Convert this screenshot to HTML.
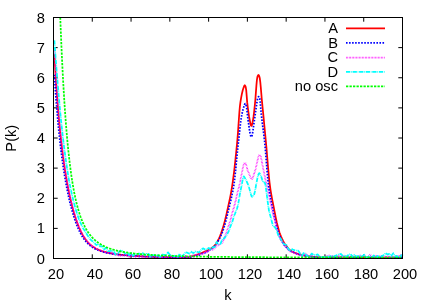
<!DOCTYPE html><html><head><meta charset="utf-8"><title>P(k)</title><style>
html,body{margin:0;padding:0;background:#fff;}
body{width:436px;height:305px;position:relative;overflow:hidden;font-family:"Liberation Sans",sans-serif;font-size:14.67px;color:#000;}
.t{position:absolute;white-space:nowrap;line-height:1;will-change:transform;}
.r{text-align:right;}
.c{text-align:center;}
</style></head><body>
<svg width="436" height="305" viewBox="0 0 436 305" style="position:absolute;left:0;top:0">
<rect width="436" height="305" fill="#fff"/>
<path d="M53.50,258.5 v-4.2 M53.50,17.5 v4.2 M92.28,258.5 v-4.2 M92.28,17.5 v4.2 M131.06,258.5 v-4.2 M131.06,17.5 v4.2 M169.83,258.5 v-4.2 M169.83,17.5 v4.2 M208.61,258.5 v-4.2 M208.61,17.5 v4.2 M247.39,258.5 v-4.2 M247.39,17.5 v4.2 M286.17,258.5 v-4.2 M286.17,17.5 v4.2 M324.94,258.5 v-4.2 M324.94,17.5 v4.2 M363.72,258.5 v-4.2 M363.72,17.5 v4.2 M402.50,258.5 v-4.2 M402.50,17.5 v4.2 M53.5,258.50 h4.2 M402.5,258.50 h-4.2 M53.5,228.38 h4.2 M402.5,228.38 h-4.2 M53.5,198.25 h4.2 M402.5,198.25 h-4.2 M53.5,168.12 h4.2 M402.5,168.12 h-4.2 M53.5,138.00 h4.2 M402.5,138.00 h-4.2 M53.5,107.88 h4.2 M402.5,107.88 h-4.2 M53.5,77.75 h4.2 M402.5,77.75 h-4.2 M53.5,47.62 h4.2 M402.5,47.62 h-4.2 M53.5,17.50 h4.2 M402.5,17.50 h-4.2" fill="none" stroke="#000" stroke-width="1"/>
<path d="M54.37,54.08 L54.96,64.48 L55.44,72.58 L55.93,80.21 L56.41,87.42 L56.90,94.22 L57.38,100.67 L57.87,106.78 L58.35,112.59 L58.84,118.11 L59.33,123.36 L59.81,128.37 L60.30,133.16 L60.78,137.73 L61.27,142.10 L61.75,146.29 L62.24,150.30 L62.72,154.15 L63.21,157.84 L63.69,161.39 L64.18,164.80 L64.66,168.09 L65.15,171.25 L65.64,174.30 L66.12,177.23 L66.61,180.07 L67.09,182.80 L67.58,185.43 L68.06,187.98 L68.55,190.44 L69.03,192.81 L69.52,195.11 L70.00,197.33 L70.49,199.48 L70.97,201.55 L71.46,203.56 L71.95,205.50 L72.43,207.38 L72.92,209.20 L73.40,210.96 L73.89,212.66 L74.37,214.31 L74.86,215.91 L75.34,217.45 L75.83,218.94 L76.31,220.38 L76.80,221.78 L77.29,223.12 L77.77,224.42 L78.26,225.67 L78.74,226.87 L79.23,228.02 L79.71,229.13 L80.20,230.20 L80.68,231.22 L81.17,232.21 L81.65,233.15 L82.14,234.06 L82.62,234.93 L83.11,235.76 L83.60,236.56 L84.08,237.32 L84.57,238.05 L85.05,238.75 L85.54,239.42 L86.02,240.07 L86.51,240.68 L86.99,241.27 L87.48,241.83 L87.96,242.37 L88.45,242.89 L88.94,243.38 L89.42,243.85 L89.91,244.30 L90.39,244.74 L90.88,245.15 L91.36,245.54 L91.85,245.92 L92.33,246.28 L92.82,246.63 L93.30,246.96 L93.79,247.28 L94.28,247.58 L94.76,247.87 L95.25,248.15 L95.73,248.42 L96.22,248.68 L96.70,248.92 L97.19,249.16 L97.67,249.39 L98.16,249.61 L98.64,249.82 L99.13,250.02 L99.61,250.22 L100.10,250.41 L100.59,250.59 L101.07,250.76 L101.56,250.93 L102.04,251.10 L102.53,251.25 L103.01,251.41 L103.50,251.55 L103.98,251.70 L104.47,251.83 L104.95,251.97 L105.44,252.10 L105.92,252.22 L106.41,252.34 L106.90,252.46 L107.38,252.57 L107.87,252.68 L108.35,252.79 L108.84,252.90 L109.32,253.00 L109.81,253.09 L110.29,253.19 L110.78,253.28 L111.26,253.37 L111.75,253.46 L112.24,253.55 L112.72,253.63 L113.21,253.71 L113.69,253.79 L114.18,253.86 L114.66,253.94 L115.15,254.01 L115.63,254.08 L116.12,254.15 L116.60,254.22 L117.09,254.28 L117.57,254.35 L118.06,254.41 L118.55,254.47 L119.03,254.53 L119.52,254.59 L120.00,254.65 L120.49,254.70 L120.97,254.76 L121.46,254.81 L121.94,254.86 L122.43,254.92 L122.91,254.97 L123.40,255.01 L123.89,255.06 L124.37,255.11 L124.86,255.15 L125.34,255.20 L125.83,255.24 L126.31,255.29 L126.80,255.33 L127.28,255.37 L127.77,255.41 L128.25,255.45 L128.74,255.49 L129.23,255.53 L129.71,255.57 L130.20,255.60 L130.68,255.64 L131.17,255.68 L131.65,255.71 L132.14,255.75 L132.62,255.78 L133.11,255.81 L133.59,255.85 L134.08,255.88 L134.56,255.91 L135.05,255.94 L135.54,255.97 L136.02,256.00 L136.51,256.03 L136.99,256.06 L137.48,256.09 L137.96,256.12 L138.45,256.14 L138.93,256.17 L139.42,256.20 L139.90,256.22 L140.39,256.25 L140.88,256.27 L141.36,256.30 L141.85,256.32 L142.33,256.34 L142.82,256.37 L143.30,256.39 L143.79,256.41 L144.27,256.43 L144.76,256.46 L145.24,256.48 L145.73,256.50 L146.21,256.52 L146.70,256.54 L147.19,256.56 L147.67,256.58 L148.16,256.60 L148.64,256.62 L149.13,256.64 L149.61,256.65 L150.10,256.67 L150.58,256.69 L151.07,256.71 L151.55,256.72 L152.04,256.74 L152.52,256.76 L153.01,256.77 L153.50,256.79 L153.98,256.80 L154.47,256.82 L154.95,256.84 L155.44,256.85 L155.92,256.86 L156.41,256.88 L156.89,256.89 L157.38,256.91 L157.86,256.92 L158.35,256.93 L158.84,256.95 L159.32,256.96 L159.81,256.97 L160.29,256.99 L160.78,257.00 L161.26,257.01 L161.75,257.02 L162.23,257.03 L162.72,257.05 L163.20,257.06 L163.69,257.07 L164.18,257.08 L164.66,257.09 L165.15,257.10 L165.63,257.11 L166.12,257.12 L166.60,257.13 L167.09,257.14 L167.57,257.15 L168.06,257.16 L168.54,257.17 L169.03,257.18 L169.51,257.19 L170.00,257.20 L170.49,257.21 L170.97,257.22 L171.46,257.22 L171.94,257.23 L172.43,257.24 L172.91,257.25 L173.40,257.26 L173.88,257.27 L174.37,257.27 L174.85,257.28 L175.34,257.29 L175.82,257.30 L176.31,257.30 L176.80,257.31 L177.28,257.32 L177.77,257.33 L178.25,257.33 L178.74,257.34 L179.22,257.35 L179.71,257.35 L180.19,257.36 L180.68,257.36 L181.16,257.37 L181.65,257.38 L182.14,257.38 L182.62,257.39 L183.11,257.39 L183.59,257.40 L184.08,257.41 L184.56,257.41 L185.05,257.42 L185.53,257.42 L186.02,257.38 L186.50,257.32 L186.99,257.26 L187.48,257.19 L187.96,257.12 L188.45,257.04 L188.93,256.95 L189.42,256.86 L189.90,256.76 L190.39,256.65 L190.87,256.54 L191.36,256.42 L191.84,256.30 L192.33,256.17 L192.81,256.04 L193.30,255.90 L193.79,255.76 L194.27,255.61 L194.76,255.46 L195.24,255.31 L195.73,255.15 L196.21,254.99 L196.70,254.82 L197.18,254.65 L197.67,254.48 L198.15,254.30 L198.64,254.12 L199.12,253.94 L199.61,253.75 L200.10,253.56 L200.58,253.37 L201.07,253.18 L201.55,252.98 L202.04,252.79 L202.52,252.59 L203.01,252.39 L203.49,252.18 L203.98,251.98 L204.46,251.78 L204.95,251.57 L205.44,251.36 L205.92,251.15 L206.41,250.93 L206.89,250.71 L207.38,250.48 L207.86,250.24 L208.35,249.99 L208.83,249.73 L209.32,249.47 L209.80,249.18 L210.29,248.89 L210.78,248.58 L211.26,248.25 L211.75,247.91 L212.23,247.56 L212.72,247.18 L213.20,246.79 L213.69,246.37 L214.17,245.94 L214.66,245.46 L215.14,244.90 L215.63,244.27 L216.11,243.57 L216.60,242.81 L217.09,241.99 L217.57,241.13 L218.06,240.23 L218.54,239.30 L219.03,238.33 L219.51,237.27 L220.00,236.13 L220.48,234.91 L220.97,233.62 L221.45,232.26 L221.94,230.84 L222.43,229.36 L222.91,227.84 L223.40,226.27 L223.88,224.61 L224.37,222.84 L224.85,220.97 L225.34,219.00 L225.82,216.96 L226.31,214.86 L226.79,212.72 L227.28,210.53 L227.76,208.33 L228.25,206.13 L228.74,203.93 L229.22,201.71 L229.71,199.43 L230.19,197.07 L230.68,194.59 L231.16,191.98 L231.65,189.19 L232.13,186.20 L232.62,182.96 L233.10,179.47 L233.59,175.72 L234.08,171.75 L234.56,167.56 L235.05,163.18 L235.53,158.62 L236.02,153.91 L236.50,149.04 L236.99,144.06 L237.47,138.85 L237.96,132.61 L238.44,125.63 L238.93,118.53 L239.41,111.90 L239.90,106.34 L240.39,102.40 L240.87,99.32 L241.36,96.56 L241.84,94.10 L242.33,91.95 L242.81,90.07 L243.30,88.48 L243.78,87.13 L244.27,85.88 L244.75,85.28 L245.24,85.80 L245.73,87.08 L246.21,90.16 L246.70,96.19 L247.18,102.15 L247.67,106.32 L248.15,110.15 L248.64,113.63 L249.12,116.71 L249.61,119.32 L250.09,121.80 L250.58,124.12 L251.06,125.66 L251.55,125.82 L252.04,124.56 L252.52,122.38 L253.01,119.83 L253.49,116.93 L253.98,113.10 L254.46,108.66 L254.95,103.98 L255.43,98.72 L255.92,92.19 L256.40,85.57 L256.89,80.09 L257.38,77.00 L257.86,75.64 L258.35,74.91 L258.83,75.25 L259.32,76.42 L259.80,78.30 L260.29,82.06 L260.77,87.20 L261.26,92.99 L261.74,98.73 L262.23,103.81 L262.71,108.73 L263.20,113.69 L263.69,118.68 L264.17,123.71 L264.66,128.77 L265.14,133.85 L265.63,138.96 L266.11,144.17 L266.60,149.70 L267.08,155.45 L267.57,161.26 L268.05,167.00 L268.54,172.51 L269.02,177.64 L269.51,182.25 L270.00,186.20 L270.48,189.58 L270.97,192.65 L271.45,195.46 L271.94,198.08 L272.42,200.57 L272.91,203.00 L273.39,205.41 L273.88,207.89 L274.36,210.43 L274.85,212.97 L275.34,215.48 L275.82,217.91 L276.31,220.23 L276.79,222.40 L277.28,224.39 L277.76,226.27 L278.25,228.07 L278.73,229.79 L279.22,231.41 L279.70,232.93 L280.19,234.33 L280.68,235.60 L281.16,236.78 L281.65,237.91 L282.13,238.98 L282.62,240.00 L283.10,240.96 L283.59,241.87 L284.07,242.72 L284.56,243.51 L285.04,244.23 L285.53,244.91 L286.01,245.56 L286.50,246.19 L286.99,246.81 L287.47,247.41 L287.96,247.98 L288.44,248.53 L288.93,249.05 L289.41,249.53 L289.90,249.99 L290.38,250.41 L290.87,250.79 L291.35,251.12 L291.84,251.42 L292.33,251.67 L292.81,251.90 L293.30,252.12 L293.78,252.34 L294.27,252.55 L294.75,252.74 L295.24,252.93 L295.72,253.12 L296.21,253.29 L296.69,253.46 L297.18,253.62 L297.66,253.77 L298.15,253.92 L298.64,254.06 L299.12,254.20 L299.61,254.33 L300.09,254.45 L300.58,254.57 L301.06,254.69 L301.55,254.80 L302.03,254.91 L302.52,255.01 L303.00,255.11 L303.49,255.21 L303.98,255.31 L304.46,255.40 L304.95,255.49 L305.43,255.58 L305.92,255.66 L306.40,255.75 L306.89,255.84 L307.37,255.92 L307.86,256.01 L308.34,256.09 L308.83,256.18 L309.31,256.26 L309.80,256.34 L310.29,256.42 L310.77,256.50 L311.26,256.57 L311.74,256.65 L312.23,256.72 L312.71,256.79 L313.20,256.86 L313.68,256.92 L314.17,256.99 L314.65,257.05 L315.14,257.11 L315.62,257.16 L316.11,257.21 L316.60,257.26 L317.08,257.31 L317.57,257.36 L318.05,257.40 L318.54,257.43 L319.02,257.47 L319.51,257.50 L319.99,257.52 L320.48,257.55 L320.96,257.57 L321.45,257.58 L321.94,257.58 L322.42,257.58 L322.91,257.58 L323.39,257.58 L323.88,257.58 L324.36,257.58 L324.85,257.58 L325.33,257.58 L325.82,257.58 L326.30,257.58 L326.79,257.58 L327.27,257.58 L327.76,257.58 L328.25,257.57 L328.73,257.57 L329.22,257.57 L329.70,257.57 L330.19,257.57 L330.67,257.57 L331.16,257.57 L331.64,257.57 L332.13,257.57 L332.61,257.57 L333.10,257.57 L333.59,257.57 L334.07,257.57 L334.56,257.57 L335.04,257.57 L335.53,257.57 L336.01,257.57 L336.50,257.57 L336.98,257.57 L337.47,257.57 L337.95,257.57 L338.44,257.57 L338.93,257.57 L339.41,257.57 L339.90,257.57 L340.38,257.57 L340.87,257.57 L341.35,257.57 L341.84,257.57 L342.32,257.57 L342.81,257.57 L343.29,257.57 L343.78,257.57 L344.26,257.57 L344.75,257.57 L345.24,257.56 L345.72,257.56 L346.21,257.56 L346.69,257.56 L347.18,257.56 L347.66,257.56 L348.15,257.56 L348.63,257.56 L349.12,257.56 L349.60,257.56 L350.09,257.56 L350.57,257.56 L351.06,257.56 L351.55,257.56 L352.03,257.56 L352.52,257.56 L353.00,257.56 L353.49,257.56 L353.97,257.56 L354.46,257.56 L354.94,257.56 L355.43,257.56 L355.91,257.56 L356.40,257.56 L356.89,257.56 L357.37,257.56 L357.86,257.56 L358.34,257.56 L358.83,257.56 L359.31,257.56 L359.80,257.56 L360.28,257.56 L360.77,257.56 L361.25,257.56 L361.74,257.56 L362.22,257.56 L362.71,257.56 L363.20,257.56 L363.68,257.56 L364.17,257.56 L364.65,257.56 L365.14,257.56 L365.62,257.56 L366.11,257.56 L366.59,257.56 L367.08,257.56 L367.56,257.56 L368.05,257.56 L368.54,257.56 L369.02,257.56 L369.51,257.56 L369.99,257.57 L370.48,257.57 L370.96,257.57 L371.45,257.57 L371.93,257.57 L372.42,257.57 L372.90,257.57 L373.39,257.57 L373.88,257.57 L374.36,257.57 L374.85,257.57 L375.33,257.57 L375.82,257.57 L376.30,257.57 L376.79,257.57 L377.27,257.57 L377.76,257.57 L378.24,257.57 L378.73,257.57 L379.21,257.57 L379.70,257.57 L380.19,257.57 L380.67,257.57 L381.16,257.57 L381.64,257.57 L382.13,257.57 L382.61,257.57 L383.10,257.57 L383.58,257.57 L384.07,257.57 L384.55,257.57 L385.04,257.57 L385.52,257.58 L386.01,257.58 L386.50,257.58 L386.98,257.58 L387.47,257.58 L387.95,257.58 L388.44,257.58 L388.92,257.58 L389.41,257.58 L389.89,257.58 L390.38,257.58 L390.86,257.58 L391.35,257.58 L391.84,257.58 L392.32,257.58 L392.81,257.58 L393.29,257.58 L393.78,257.58 L394.26,257.58 L394.75,257.58 L395.23,257.59 L395.72,257.59 L396.20,257.59 L396.69,257.59 L397.17,257.59 L397.66,257.59 L398.15,257.59 L398.63,257.59 L399.12,257.59 L399.60,257.59 L400.09,257.59 L400.57,257.59 L401.06,257.59 L401.54,257.59 L402.03,257.59 L402.51,257.60 L403.00,257.60" fill="none" stroke="#ff0000" stroke-width="1.75" stroke-linejoin="round"/>
<path d="M54.37,74.78 L54.96,83.82 L55.44,90.90 L55.93,97.54 L56.41,103.83 L56.90,109.80 L57.38,115.46 L57.87,120.89 L58.35,126.07 L58.84,131.00 L59.33,135.71 L59.81,140.19 L60.30,144.46 L60.78,148.56 L61.27,152.48 L61.75,156.25 L62.24,159.86 L62.72,163.33 L63.21,166.66 L63.69,169.90 L64.18,173.01 L64.66,176.00 L65.15,178.89 L65.64,181.67 L66.12,184.34 L66.61,186.92 L67.09,189.42 L67.58,191.83 L68.06,194.16 L68.55,196.40 L69.03,198.58 L69.52,200.67 L70.00,202.70 L70.49,204.65 L70.97,206.55 L71.46,208.38 L71.95,210.15 L72.43,211.86 L72.92,213.52 L73.40,215.15 L73.89,216.73 L74.37,218.25 L74.86,219.73 L75.34,221.15 L75.83,222.53 L76.31,223.85 L76.80,225.13 L77.29,226.34 L77.77,227.51 L78.26,228.63 L78.74,229.71 L79.23,230.76 L79.71,231.77 L80.20,232.74 L80.68,233.68 L81.17,234.56 L81.65,235.41 L82.14,236.22 L82.62,237.00 L83.11,237.73 L83.60,238.44 L84.08,239.11 L84.57,239.75 L85.05,240.40 L85.54,241.03 L86.02,241.63 L86.51,242.20 L86.99,242.72 L87.48,243.22 L87.96,243.69 L88.45,244.14 L88.94,244.60 L89.42,245.04 L89.91,245.46 L90.39,245.86 L90.88,246.22 L91.36,246.56 L91.85,246.89 L92.33,247.20 L92.82,247.51 L93.30,247.80 L93.79,248.07 L94.28,248.34 L94.76,248.63 L95.25,248.90 L95.73,249.17 L96.22,249.43 L96.70,249.64 L97.19,249.85 L97.67,250.04 L98.16,250.22 L98.64,250.41 L99.13,250.60 L99.61,250.77 L100.10,250.94 L100.59,251.12 L101.07,251.29 L101.56,251.46 L102.04,251.62 L102.53,251.78 L103.01,251.93 L103.50,252.09 L103.98,252.23 L104.47,252.37 L104.95,252.50 L105.44,252.63 L105.92,252.76 L106.41,252.83 L106.90,252.90 L107.38,252.97 L107.87,253.03 L108.35,253.13 L108.84,253.23 L109.32,253.33 L109.81,253.42 L110.29,253.43 L110.78,253.42 L111.26,253.41 L111.75,253.40 L112.24,253.65 L112.72,253.90 L113.21,254.15 L113.69,254.40 L114.18,254.38 L114.66,254.35 L115.15,254.32 L115.63,254.29 L116.12,254.34 L116.60,254.39 L117.09,254.44 L117.57,254.49 L118.06,254.51 L118.55,254.52 L119.03,254.53 L119.52,254.54 L120.00,254.63 L120.49,254.72 L120.97,254.81 L121.46,254.90 L121.94,255.01 L122.43,255.11 L122.91,255.22 L123.40,255.33 L123.89,255.34 L124.37,255.34 L124.86,255.35 L125.34,255.35 L125.83,255.37 L126.31,255.38 L126.80,255.40 L127.28,255.41 L127.77,255.49 L128.25,255.57 L128.74,255.64 L129.23,255.72 L129.71,255.71 L130.20,255.69 L130.68,255.68 L131.17,255.66 L131.65,255.81 L132.14,255.97 L132.62,256.12 L133.11,256.27 L133.59,256.14 L134.08,256.00 L134.56,255.87 L135.05,255.74 L135.54,255.78 L136.02,255.82 L136.51,255.86 L136.99,255.90 L137.48,256.01 L137.96,256.11 L138.45,256.22 L138.93,256.33 L139.42,256.31 L139.90,256.29 L140.39,256.27 L140.88,256.25 L141.36,256.30 L141.85,256.35 L142.33,256.40 L142.82,256.45 L143.30,256.51 L143.79,256.57 L144.27,256.63 L144.76,256.69 L145.24,256.67 L145.73,256.65 L146.21,256.62 L146.70,256.60 L147.19,256.58 L147.67,256.56 L148.16,256.53 L148.64,256.51 L149.13,256.59 L149.61,256.67 L150.10,256.75 L150.58,256.83 L151.07,256.84 L151.55,256.86 L152.04,256.88 L152.52,256.89 L153.01,256.89 L153.50,256.89 L153.98,256.90 L154.47,256.90 L154.95,256.89 L155.44,256.88 L155.92,256.87 L156.41,256.86 L156.89,256.84 L157.38,256.81 L157.86,256.79 L158.35,256.76 L158.84,256.86 L159.32,256.96 L159.81,257.06 L160.29,257.16 L160.78,257.12 L161.26,257.08 L161.75,257.03 L162.23,256.99 L162.72,257.02 L163.20,257.04 L163.69,257.07 L164.18,257.09 L164.66,257.19 L165.15,257.30 L165.63,257.40 L166.12,257.51 L166.60,257.45 L167.09,257.39 L167.57,257.34 L168.06,257.28 L168.54,257.28 L169.03,257.27 L169.51,257.27 L170.00,257.27 L170.49,257.27 L170.97,257.27 L171.46,257.28 L171.94,257.28 L172.43,257.27 L172.91,257.26 L173.40,257.26 L173.88,257.25 L174.37,257.36 L174.85,257.48 L175.34,257.59 L175.82,257.70 L176.31,257.62 L176.80,257.53 L177.28,257.44 L177.77,257.35 L178.25,257.39 L178.74,257.43 L179.22,257.47 L179.71,257.51 L180.19,257.55 L180.68,257.59 L181.16,257.63 L181.65,257.67 L182.14,257.59 L182.62,257.51 L183.11,257.42 L183.59,257.34 L184.08,257.33 L184.56,257.33 L185.05,257.33 L185.53,257.32 L186.02,257.38 L186.50,257.44 L186.99,257.48 L187.48,257.51 L187.96,257.41 L188.45,257.30 L188.93,257.17 L189.42,257.05 L189.90,257.03 L190.39,257.01 L190.87,256.98 L191.36,256.95 L191.84,256.83 L192.33,256.70 L192.81,256.57 L193.30,256.44 L193.79,256.37 L194.27,256.29 L194.76,256.21 L195.24,256.13 L195.73,255.86 L196.21,255.60 L196.70,255.32 L197.18,255.05 L197.67,255.08 L198.15,255.11 L198.64,255.13 L199.12,255.15 L199.61,254.87 L200.10,254.57 L200.58,254.28 L201.07,253.98 L201.55,253.77 L202.04,253.55 L202.52,253.33 L203.01,253.10 L203.49,253.04 L203.98,252.97 L204.46,252.91 L204.95,252.84 L205.44,252.56 L205.92,252.27 L206.41,251.97 L206.89,251.66 L207.38,251.41 L207.86,251.15 L208.35,250.87 L208.83,250.58 L209.32,250.25 L209.80,249.90 L210.29,249.53 L210.78,249.15 L211.26,248.78 L211.75,248.40 L212.23,248.00 L212.72,247.59 L213.20,247.25 L213.69,246.90 L214.17,246.54 L214.66,246.14 L215.14,245.66 L215.63,245.13 L216.11,244.55 L216.60,243.92 L217.09,243.07 L217.57,242.19 L218.06,241.27 L218.54,240.31 L219.03,239.46 L219.51,238.56 L220.00,237.59 L220.48,236.54 L220.97,235.50 L221.45,234.40 L221.94,233.24 L222.43,232.02 L222.91,230.63 L223.40,229.20 L223.88,227.73 L224.37,226.20 L224.85,224.60 L225.34,222.89 L225.82,221.09 L226.31,219.20 L226.79,217.24 L227.28,215.22 L227.76,213.17 L228.25,211.10 L228.74,209.04 L229.22,207.00 L229.71,205.00 L230.19,203.03 L230.68,200.97 L231.16,198.87 L231.65,196.68 L232.13,194.38 L232.62,192.11 L233.10,189.65 L233.59,186.97 L234.08,183.91 L234.56,180.01 L235.05,175.64 L235.53,170.92 L236.02,165.94 L236.50,160.98 L236.99,155.97 L237.47,151.04 L237.96,146.29 L238.44,141.83 L238.93,137.53 L239.41,133.11 L239.90,128.72 L240.39,124.46 L240.87,120.60 L241.36,117.32 L241.84,114.59 L242.33,112.30 L242.81,110.25 L243.30,108.47 L243.78,107.00 L244.27,105.51 L244.75,104.17 L245.24,103.63 L245.73,104.21 L246.21,105.59 L246.70,108.24 L247.18,112.42 L247.67,116.90 L248.15,120.55 L248.64,123.90 L249.12,127.38 L249.61,130.71 L250.09,133.50 L250.58,135.64 L251.06,136.86 L251.55,136.90 L252.04,135.67 L252.52,133.34 L253.01,130.28 L253.49,126.81 L253.98,123.12 L254.46,119.72 L254.95,116.38 L255.43,112.81 L255.92,109.40 L256.40,106.15 L256.89,102.67 L257.38,99.69 L257.86,98.01 L258.35,96.89 L258.83,96.61 L259.32,97.38 L259.80,98.81 L260.29,102.46 L260.77,108.41 L261.26,114.03 L261.74,118.32 L262.23,122.28 L262.71,126.04 L263.20,129.76 L263.69,133.56 L264.17,137.59 L264.66,142.01 L265.14,147.06 L265.63,152.69 L266.11,158.64 L266.60,164.71 L267.08,170.65 L267.57,176.27 L268.05,181.33 L268.54,185.61 L269.02,189.12 L269.51,192.27 L270.00,195.14 L270.48,197.80 L270.97,200.30 L271.45,202.71 L271.94,205.08 L272.42,207.47 L272.91,209.89 L273.39,212.32 L273.88,214.69 L274.36,217.00 L274.85,219.23 L275.34,221.35 L275.82,223.36 L276.31,225.24 L276.79,227.08 L277.28,228.85 L277.76,230.56 L278.25,232.16 L278.73,233.66 L279.22,234.87 L279.70,235.94 L280.19,236.94 L280.68,237.89 L281.16,239.13 L281.65,240.32 L282.13,241.44 L282.62,242.51 L283.10,243.31 L283.59,244.05 L284.07,244.72 L284.56,245.33 L285.04,245.89 L285.53,246.42 L286.01,246.94 L286.50,247.43 L286.99,248.00 L287.47,248.54 L287.96,249.06 L288.44,249.55 L288.93,249.95 L289.41,250.31 L289.90,250.64 L290.38,250.94 L290.87,251.22 L291.35,251.46 L291.84,251.68 L292.33,251.89 L292.81,252.09 L293.30,252.29 L293.78,252.47 L294.27,252.65 L294.75,252.87 L295.24,253.08 L295.72,253.28 L296.21,253.48 L296.69,253.72 L297.18,253.96 L297.66,254.19 L298.15,254.42 L298.64,254.47 L299.12,254.51 L299.61,254.55 L300.09,254.58 L300.58,254.83 L301.06,255.08 L301.55,255.32 L302.03,255.56 L302.52,255.58 L303.00,255.61 L303.49,255.63 L303.98,255.64 L304.46,255.74 L304.95,255.84 L305.43,255.94 L305.92,256.04 L306.40,256.14 L306.89,256.25 L307.37,256.35 L307.86,256.46 L308.34,256.46 L308.83,256.46 L309.31,256.46 L309.80,256.46 L310.29,256.57 L310.77,256.67 L311.26,256.78 L311.74,256.88 L312.23,256.89 L312.71,256.90 L313.20,256.90 L313.68,256.91 L314.17,257.08 L314.65,257.24 L315.14,257.41 L315.62,257.57 L316.11,257.51 L316.60,257.45 L317.08,257.38 L317.57,257.31 L318.05,257.35 L318.54,257.40 L319.02,257.44 L319.51,257.47 L319.99,257.50 L320.48,257.53 L320.96,257.56 L321.45,257.58 L321.94,257.64 L322.42,257.71 L322.91,257.78 L323.39,257.85 L323.88,257.80 L324.36,257.75 L324.85,257.69 L325.33,257.64 L325.82,257.70 L326.30,257.76 L326.79,257.81 L327.27,257.87 L327.76,257.90 L328.25,257.92 L328.73,257.94 L329.22,257.97 L329.70,257.73 L330.19,257.48 L330.67,257.24 L331.16,257.00 L331.64,257.10 L332.13,257.21 L332.61,257.31 L333.10,257.41 L333.59,257.38 L334.07,257.34 L334.56,257.30 L335.04,257.26 L335.53,257.36 L336.01,257.46 L336.50,257.56 L336.98,257.66 L337.47,257.61 L337.95,257.56 L338.44,257.51 L338.93,257.46 L339.41,257.46 L339.90,257.46 L340.38,257.46 L340.87,257.46 L341.35,257.46 L341.84,257.47 L342.32,257.47 L342.81,257.48 L343.29,257.50 L343.78,257.53 L344.26,257.56 L344.75,257.58 L345.24,257.59 L345.72,257.60 L346.21,257.61 L346.69,257.62 L347.18,257.71 L347.66,257.79 L348.15,257.87 L348.63,257.96 L349.12,257.84 L349.60,257.71 L350.09,257.59 L350.57,257.47 L351.06,257.48 L351.55,257.49 L352.03,257.50 L352.52,257.51 L353.00,257.47 L353.49,257.44 L353.97,257.41 L354.46,257.38 L354.94,257.44 L355.43,257.51 L355.91,257.57 L356.40,257.63 L356.89,257.54 L357.37,257.45 L357.86,257.36 L358.34,257.27 L358.83,257.37 L359.31,257.46 L359.80,257.56 L360.28,257.66 L360.77,257.70 L361.25,257.74 L361.74,257.77 L362.22,257.81 L362.71,257.71 L363.20,257.61 L363.68,257.51 L364.17,257.41 L364.65,257.48 L365.14,257.54 L365.62,257.60 L366.11,257.67 L366.59,257.70 L367.08,257.74 L367.56,257.77 L368.05,257.81 L368.54,257.75 L369.02,257.69 L369.51,257.62 L369.99,257.56 L370.48,257.53 L370.96,257.51 L371.45,257.48 L371.93,257.45 L372.42,257.47 L372.90,257.50 L373.39,257.52 L373.88,257.54 L374.36,257.53 L374.85,257.52 L375.33,257.51 L375.82,257.50 L376.30,257.33 L376.79,257.17 L377.27,257.01 L377.76,256.85 L378.24,256.99 L378.73,257.14 L379.21,257.29 L379.70,257.44 L380.19,257.41 L380.67,257.38 L381.16,257.35 L381.64,257.31 L382.13,257.47 L382.61,257.63 L383.10,257.79 L383.58,257.95 L384.07,257.85 L384.55,257.74 L385.04,257.63 L385.52,257.53 L386.01,257.51 L386.50,257.49 L386.98,257.47 L387.47,257.46 L387.95,257.51 L388.44,257.56 L388.92,257.61 L389.41,257.66 L389.89,257.69 L390.38,257.71 L390.86,257.74 L391.35,257.76 L391.84,257.70 L392.32,257.64 L392.81,257.59 L393.29,257.53 L393.78,257.56 L394.26,257.60 L394.75,257.63 L395.23,257.66 L395.72,257.67 L396.20,257.69 L396.69,257.70 L397.17,257.71 L397.66,257.64 L398.15,257.56 L398.63,257.48 L399.12,257.40 L399.60,257.39 L400.09,257.39 L400.57,257.38 L401.06,257.37 L401.54,257.42 L402.03,257.47 L402.51,257.51 L403.00,257.56" fill="none" stroke="#0000ff" stroke-width="1.75" stroke-linejoin="round" stroke-dasharray="1.6 1.44"/>
<path d="M54.37,48.53 L54.96,59.35 L55.44,67.77 L55.93,75.75 L56.41,83.27 L56.90,90.38 L57.38,97.11 L57.87,103.36 L58.35,109.29 L58.84,114.92 L59.33,120.28 L59.81,125.44 L60.30,130.36 L60.78,135.06 L61.27,139.55 L61.75,143.83 L62.24,147.94 L62.72,151.88 L63.21,155.65 L63.69,159.31 L64.18,162.82 L64.66,166.20 L65.15,169.45 L65.64,172.55 L66.12,175.53 L66.61,178.40 L67.09,181.18 L67.58,183.88 L68.06,186.50 L68.55,189.02 L69.03,191.46 L69.52,193.83 L70.00,196.12 L70.49,198.34 L70.97,200.48 L71.46,202.46 L71.95,204.37 L72.43,206.22 L72.92,208.01 L73.40,209.80 L73.89,211.54 L74.37,213.22 L74.86,214.85 L75.34,216.40 L75.83,217.90 L76.31,219.34 L76.80,220.74 L77.29,222.17 L77.77,223.54 L78.26,224.87 L78.74,226.15 L79.23,227.34 L79.71,228.49 L80.20,229.60 L80.68,230.67 L81.17,231.68 L81.65,232.66 L82.14,233.59 L82.62,234.49 L83.11,235.39 L83.60,236.26 L84.08,237.09 L84.57,237.90 L85.05,238.51 L85.54,239.08 L86.02,239.61 L86.51,240.11 L86.99,240.82 L87.48,241.51 L87.96,242.19 L88.45,242.84 L88.94,243.36 L89.42,243.86 L89.91,244.34 L90.39,244.80 L90.88,245.16 L91.36,245.51 L91.85,245.83 L92.33,246.13 L92.82,246.36 L93.30,246.57 L93.79,246.75 L94.28,246.92 L94.76,247.31 L95.25,247.70 L95.73,248.07 L96.22,248.44 L96.70,248.80 L97.19,249.16 L97.67,249.52 L98.16,249.86 L98.64,250.06 L99.13,250.24 L99.61,250.42 L100.10,250.58 L100.59,250.64 L101.07,250.68 L101.56,250.71 L102.04,250.73 L102.53,250.97 L103.01,251.21 L103.50,251.45 L103.98,251.68 L104.47,251.90 L104.95,252.11 L105.44,252.32 L105.92,252.52 L106.41,252.58 L106.90,252.64 L107.38,252.69 L107.87,252.74 L108.35,252.72 L108.84,252.70 L109.32,252.67 L109.81,252.63 L110.29,252.55 L110.78,252.47 L111.26,252.38 L111.75,252.28 L112.24,252.82 L112.72,253.36 L113.21,253.92 L113.69,254.48 L114.18,254.48 L114.66,254.46 L115.15,254.45 L115.63,254.43 L116.12,254.53 L116.60,254.63 L117.09,254.73 L117.57,254.83 L118.06,255.17 L118.55,255.51 L119.03,255.85 L119.52,256.20 L120.00,256.01 L120.49,255.83 L120.97,255.63 L121.46,255.43 L121.94,255.50 L122.43,255.57 L122.91,255.64 L123.40,255.71 L123.89,255.38 L124.37,255.05 L124.86,254.71 L125.34,254.38 L125.83,254.65 L126.31,254.91 L126.80,255.18 L127.28,255.44 L127.77,255.74 L128.25,256.04 L128.74,256.34 L129.23,256.64 L129.71,256.28 L130.20,255.92 L130.68,255.56 L131.17,255.20 L131.65,255.41 L132.14,255.62 L132.62,255.83 L133.11,256.04 L133.59,256.32 L134.08,256.59 L134.56,256.87 L135.05,257.14 L135.54,256.97 L136.02,256.80 L136.51,256.63 L136.99,256.46 L137.48,256.48 L137.96,256.51 L138.45,256.54 L138.93,256.56 L139.42,256.64 L139.90,256.71 L140.39,256.79 L140.88,256.86 L141.36,256.73 L141.85,256.60 L142.33,256.47 L142.82,256.33 L143.30,256.75 L143.79,257.17 L144.27,257.59 L144.76,258.00 L145.24,257.68 L145.73,257.36 L146.21,257.04 L146.70,256.71 L147.19,256.51 L147.67,256.31 L148.16,256.11 L148.64,255.90 L149.13,255.95 L149.61,256.00 L150.10,256.04 L150.58,256.09 L151.07,256.06 L151.55,256.03 L152.04,256.01 L152.52,255.98 L153.01,255.99 L153.50,256.01 L153.98,256.02 L154.47,256.04 L154.95,255.99 L155.44,255.94 L155.92,255.89 L156.41,255.84 L156.89,256.31 L157.38,256.77 L157.86,257.23 L158.35,257.70 L158.84,257.37 L159.32,257.04 L159.81,256.72 L160.29,256.39 L160.78,256.87 L161.26,257.35 L161.75,257.83 L162.23,258.31 L162.72,258.10 L163.20,257.90 L163.69,257.69 L164.18,257.49 L164.66,257.72 L165.15,257.96 L165.63,258.19 L166.12,258.43 L166.60,257.93 L167.09,257.43 L167.57,256.93 L168.06,256.43 L168.54,256.39 L169.03,256.35 L169.51,256.31 L170.00,256.27 L170.49,256.54 L170.97,256.82 L171.46,257.09 L171.94,257.36 L172.43,257.03 L172.91,256.70 L173.40,256.37 L173.88,256.04 L174.37,256.46 L174.85,256.89 L175.34,257.32 L175.82,257.75 L176.31,257.61 L176.80,257.48 L177.28,257.35 L177.77,257.21 L178.25,257.22 L178.74,257.22 L179.22,257.23 L179.71,257.23 L180.19,257.45 L180.68,257.66 L181.16,257.88 L181.65,258.09 L182.14,257.83 L182.62,257.57 L183.11,257.29 L183.59,257.01 L184.08,256.73 L184.56,256.44 L185.05,256.14 L185.53,255.84 L186.02,256.30 L186.50,256.76 L186.99,257.21 L187.48,257.66 L187.96,257.26 L188.45,256.86 L188.93,256.45 L189.42,256.04 L189.90,256.14 L190.39,256.24 L190.87,256.33 L191.36,256.42 L191.84,255.99 L192.33,255.56 L192.81,255.12 L193.30,254.68 L193.79,254.79 L194.27,254.91 L194.76,255.02 L195.24,255.13 L195.73,254.98 L196.21,254.82 L196.70,254.67 L197.18,254.51 L197.67,254.40 L198.15,254.28 L198.64,254.16 L199.12,254.04 L199.61,253.98 L200.10,253.92 L200.58,253.86 L201.07,253.80 L201.55,253.96 L202.04,254.10 L202.52,254.23 L203.01,254.35 L203.49,253.67 L203.98,252.98 L204.46,252.28 L204.95,251.56 L205.44,251.84 L205.92,252.11 L206.41,252.38 L206.89,252.65 L207.38,252.13 L207.86,251.61 L208.35,251.08 L208.83,250.56 L209.32,250.26 L209.80,249.97 L210.29,249.68 L210.78,249.39 L211.26,249.44 L211.75,249.49 L212.23,249.54 L212.72,249.59 L213.20,249.18 L213.69,248.76 L214.17,248.33 L214.66,247.89 L215.14,247.42 L215.63,246.94 L216.11,246.43 L216.60,245.90 L217.09,245.75 L217.57,245.58 L218.06,245.38 L218.54,245.15 L219.03,244.83 L219.51,244.48 L220.00,244.10 L220.48,243.69 L220.97,243.47 L221.45,243.22 L221.94,242.94 L222.43,242.63 L222.91,241.53 L223.40,240.40 L223.88,239.18 L224.37,237.83 L224.85,236.66 L225.34,235.40 L225.82,234.05 L226.31,232.63 L226.79,231.21 L227.28,229.75 L227.76,228.27 L228.25,226.78 L228.74,225.38 L229.22,224.00 L229.71,222.57 L230.19,221.09 L230.68,219.20 L231.16,217.26 L231.65,215.28 L232.13,213.28 L232.62,211.71 L233.10,210.12 L233.59,208.52 L234.08,206.92 L234.56,205.01 L235.05,203.08 L235.53,201.13 L236.02,199.15 L236.50,197.08 L236.99,194.97 L237.47,192.82 L237.96,190.64 L238.44,188.91 L238.93,187.13 L239.41,185.26 L239.90,183.18 L240.39,180.53 L240.87,177.86 L241.36,175.29 L241.84,172.95 L242.33,170.51 L242.81,168.26 L243.30,166.15 L243.78,164.25 L244.27,163.46 L244.75,162.78 L245.24,162.73 L245.73,163.70 L246.21,165.17 L246.70,166.82 L247.18,168.70 L247.67,170.64 L248.15,171.75 L248.64,172.78 L249.12,173.95 L249.61,175.17 L250.09,176.45 L250.58,177.58 L251.06,178.44 L251.55,178.93 L252.04,178.93 L252.52,178.35 L253.01,177.25 L253.49,175.74 L253.98,174.32 L254.46,172.73 L254.95,171.09 L255.43,169.50 L255.92,167.64 L256.40,165.44 L256.89,163.16 L257.38,161.06 L257.86,158.90 L258.35,157.01 L258.83,155.89 L259.32,155.16 L259.80,154.95 L260.29,155.53 L260.77,156.51 L261.26,158.34 L261.74,161.03 L262.23,163.74 L262.71,166.13 L263.20,168.46 L263.69,170.88 L264.17,173.29 L264.66,175.70 L265.14,178.10 L265.63,180.27 L266.11,182.43 L266.60,184.62 L267.08,186.82 L267.57,189.18 L268.05,191.58 L268.54,194.00 L269.02,196.42 L269.51,198.55 L270.00,200.66 L270.48,202.72 L270.97,204.72 L271.45,207.17 L271.94,209.52 L272.42,211.81 L272.91,214.03 L273.39,215.69 L273.88,217.33 L274.36,218.97 L274.85,220.61 L275.34,222.45 L275.82,224.39 L276.31,226.38 L276.79,228.33 L277.28,230.32 L277.76,232.13 L278.25,233.69 L278.73,235.02 L279.22,236.45 L279.70,237.80 L280.19,239.08 L280.68,240.29 L281.16,240.77 L281.65,241.19 L282.13,241.57 L282.62,241.88 L283.10,242.94 L283.59,243.97 L284.07,244.97 L284.56,245.95 L285.04,246.32 L285.53,246.68 L286.01,247.00 L286.50,247.31 L286.99,248.01 L287.47,248.68 L287.96,249.33 L288.44,249.94 L288.93,250.50 L289.41,251.02 L289.90,251.51 L290.38,251.99 L290.87,251.93 L291.35,251.87 L291.84,251.80 L292.33,251.73 L292.81,251.99 L293.30,252.25 L293.78,252.50 L294.27,252.73 L294.75,253.03 L295.24,253.33 L295.72,253.60 L296.21,253.87 L296.69,254.00 L297.18,254.11 L297.66,254.20 L298.15,254.29 L298.64,254.58 L299.12,254.85 L299.61,255.10 L300.09,255.34 L300.58,255.42 L301.06,255.50 L301.55,255.58 L302.03,255.65 L302.52,255.61 L303.00,255.57 L303.49,255.53 L303.98,255.48 L304.46,255.17 L304.95,254.86 L305.43,254.55 L305.92,254.24 L306.40,254.48 L306.89,254.72 L307.37,254.96 L307.86,255.19 L308.34,255.47 L308.83,255.74 L309.31,256.02 L309.80,256.29 L310.29,256.14 L310.77,255.99 L311.26,255.84 L311.74,255.68 L312.23,255.89 L312.71,256.10 L313.20,256.31 L313.68,256.52 L314.17,256.54 L314.65,256.56 L315.14,256.58 L315.62,256.60 L316.11,256.39 L316.60,256.18 L317.08,255.96 L317.57,255.75 L318.05,256.00 L318.54,256.25 L319.02,256.50 L319.51,256.75 L319.99,256.95 L320.48,257.16 L320.96,257.36 L321.45,257.56 L321.94,257.42 L322.42,257.29 L322.91,257.16 L323.39,257.02 L323.88,256.85 L324.36,256.67 L324.85,256.50 L325.33,256.33 L325.82,256.32 L326.30,256.31 L326.79,256.30 L327.27,256.30 L327.76,256.10 L328.25,255.91 L328.73,255.71 L329.22,255.52 L329.70,255.86 L330.19,256.20 L330.67,256.54 L331.16,256.88 L331.64,256.62 L332.13,256.37 L332.61,256.12 L333.10,255.87 L333.59,255.92 L334.07,255.97 L334.56,256.02 L335.04,256.08 L335.53,256.18 L336.01,256.28 L336.50,256.38 L336.98,256.47 L337.47,256.30 L337.95,256.13 L338.44,255.96 L338.93,255.79 L339.41,255.85 L339.90,255.91 L340.38,255.97 L340.87,256.03 L341.35,256.26 L341.84,256.50 L342.32,256.73 L342.81,256.97 L343.29,256.63 L343.78,256.29 L344.26,255.96 L344.75,255.62 L345.24,256.02 L345.72,256.42 L346.21,256.81 L346.69,257.21 L347.18,256.99 L347.66,256.77 L348.15,256.54 L348.63,256.32 L349.12,256.33 L349.60,256.34 L350.09,256.35 L350.57,256.36 L351.06,256.29 L351.55,256.21 L352.03,256.14 L352.52,256.07 L353.00,256.27 L353.49,256.47 L353.97,256.66 L354.46,256.86 L354.94,256.74 L355.43,256.62 L355.91,256.50 L356.40,256.38 L356.89,256.40 L357.37,256.42 L357.86,256.44 L358.34,256.46 L358.83,256.26 L359.31,256.06 L359.80,255.86 L360.28,255.67 L360.77,255.98 L361.25,256.29 L361.74,256.60 L362.22,256.91 L362.71,256.76 L363.20,256.61 L363.68,256.46 L364.17,256.31 L364.65,256.37 L365.14,256.43 L365.62,256.48 L366.11,256.54 L366.59,256.72 L367.08,256.90 L367.56,257.08 L368.05,257.26 L368.54,256.57 L369.02,255.88 L369.51,255.19 L369.99,254.50 L370.48,254.98 L370.96,255.46 L371.45,255.93 L371.93,256.41 L372.42,256.66 L372.90,256.90 L373.39,257.15 L373.88,257.40 L374.36,256.89 L374.85,256.39 L375.33,255.89 L375.82,255.38 L376.30,255.82 L376.79,256.25 L377.27,256.68 L377.76,257.11 L378.24,256.86 L378.73,256.61 L379.21,256.36 L379.70,256.11 L380.19,256.02 L380.67,255.94 L381.16,255.85 L381.64,255.77 L382.13,256.03 L382.61,256.29 L383.10,256.56 L383.58,256.82 L384.07,256.78 L384.55,256.74 L385.04,256.71 L385.52,256.67 L386.01,256.69 L386.50,256.71 L386.98,256.73 L387.47,256.75 L387.95,256.68 L388.44,256.61 L388.92,256.53 L389.41,256.46 L389.89,256.72 L390.38,256.98 L390.86,257.24 L391.35,257.50 L391.84,257.44 L392.32,257.37 L392.81,257.30 L393.29,257.24 L393.78,257.05 L394.26,256.86 L394.75,256.67 L395.23,256.48 L395.72,256.27 L396.20,256.07 L396.69,255.87 L397.17,255.66 L397.66,255.73 L398.15,255.80 L398.63,255.87 L399.12,255.95 L399.60,255.76 L400.09,255.57 L400.57,255.38 L401.06,255.19 L401.54,255.37 L402.03,255.55 L402.51,255.73 L403.00,255.91" fill="none" stroke="#ff00ff" stroke-width="1.75" stroke-linejoin="round" stroke-dasharray="0.62 0.84"/>
<path d="M54.37,40.39 L54.96,48.58 L55.44,55.26 L55.93,61.58 L56.41,67.76 L56.90,73.79 L57.38,79.67 L57.87,85.58 L58.35,91.33 L58.84,96.93 L59.33,102.37 L59.81,107.66 L60.30,112.80 L60.78,117.78 L61.27,122.61 L61.75,127.15 L62.24,131.55 L62.72,135.81 L63.21,139.92 L63.69,143.88 L64.18,147.71 L64.66,151.40 L65.15,154.97 L65.64,158.51 L66.12,161.93 L66.61,165.23 L67.09,168.41 L67.58,171.56 L68.06,174.60 L68.55,177.53 L69.03,180.36 L69.52,182.90 L70.00,185.35 L70.49,187.71 L70.97,189.98 L71.46,192.31 L71.95,194.55 L72.43,196.72 L72.92,198.81 L73.40,200.76 L73.89,202.63 L74.37,204.44 L74.86,206.18 L75.34,207.89 L75.83,209.54 L76.31,211.13 L76.80,212.67 L77.29,214.22 L77.77,215.73 L78.26,217.18 L78.74,218.58 L79.23,219.77 L79.71,220.92 L80.20,222.02 L80.68,223.07 L81.17,224.23 L81.65,225.35 L82.14,226.44 L82.62,227.50 L83.11,228.30 L83.60,229.05 L84.08,229.75 L84.57,230.40 L85.05,231.27 L85.54,232.12 L86.02,232.95 L86.51,233.75 L86.99,234.52 L87.48,235.27 L87.96,235.99 L88.45,236.70 L88.94,237.43 L89.42,238.14 L89.91,238.84 L90.39,239.53 L90.88,239.93 L91.36,240.31 L91.85,240.67 L92.33,241.00 L92.82,241.44 L93.30,241.86 L93.79,242.27 L94.28,242.66 L94.76,243.26 L95.25,243.86 L95.73,244.46 L96.22,245.05 L96.70,244.83 L97.19,244.57 L97.67,244.29 L98.16,243.97 L98.64,244.57 L99.13,245.17 L99.61,245.77 L100.10,246.37 L100.59,246.37 L101.07,246.36 L101.56,246.33 L102.04,246.28 L102.53,247.06 L103.01,247.85 L103.50,248.65 L103.98,249.46 L104.47,249.07 L104.95,248.65 L105.44,248.22 L105.92,247.75 L106.41,248.60 L106.90,249.45 L107.38,250.32 L107.87,251.20 L108.35,251.20 L108.84,251.18 L109.32,251.16 L109.81,251.12 L110.29,250.96 L110.78,250.78 L111.26,250.60 L111.75,250.40 L112.24,250.64 L112.72,250.88 L113.21,251.13 L113.69,251.37 L114.18,252.15 L114.66,252.94 L115.15,253.74 L115.63,254.56 L116.12,254.31 L116.60,254.06 L117.09,253.79 L117.57,253.52 L118.06,253.02 L118.55,252.51 L119.03,251.98 L119.52,251.44 L120.00,251.11 L120.49,250.77 L120.97,250.42 L121.46,250.05 L121.94,250.51 L122.43,250.96 L122.91,251.41 L123.40,251.85 L123.89,252.30 L124.37,252.75 L124.86,253.20 L125.34,253.65 L125.83,253.35 L126.31,253.06 L126.80,252.76 L127.28,252.46 L127.77,253.14 L128.25,253.83 L128.74,254.50 L129.23,255.18 L129.71,254.69 L130.20,254.20 L130.68,253.70 L131.17,253.21 L131.65,253.85 L132.14,254.50 L132.62,255.14 L133.11,255.78 L133.59,255.39 L134.08,254.99 L134.56,254.59 L135.05,254.20 L135.54,254.27 L136.02,254.34 L136.51,254.42 L136.99,254.49 L137.48,254.22 L137.96,253.95 L138.45,253.68 L138.93,253.41 L139.42,253.80 L139.90,254.18 L140.39,254.57 L140.88,254.95 L141.36,254.49 L141.85,254.03 L142.33,253.58 L142.82,253.12 L143.30,253.59 L143.79,254.07 L144.27,254.54 L144.76,255.02 L145.24,254.71 L145.73,254.40 L146.21,254.09 L146.70,253.78 L147.19,253.82 L147.67,253.85 L148.16,253.89 L148.64,253.93 L149.13,254.79 L149.61,255.66 L150.10,256.52 L150.58,257.39 L151.07,256.80 L151.55,256.22 L152.04,255.63 L152.52,255.04 L153.01,255.06 L153.50,255.08 L153.98,255.10 L154.47,255.11 L154.95,255.39 L155.44,255.67 L155.92,255.95 L156.41,256.22 L156.89,255.93 L157.38,255.64 L157.86,255.34 L158.35,255.05 L158.84,255.59 L159.32,256.13 L159.81,256.67 L160.29,257.20 L160.78,256.57 L161.26,255.94 L161.75,255.31 L162.23,254.67 L162.72,254.70 L163.20,254.73 L163.69,254.75 L164.18,254.78 L164.66,254.86 L165.15,254.94 L165.63,255.01 L166.12,255.09 L166.60,254.41 L167.09,253.72 L167.57,253.03 L168.06,252.35 L168.54,253.04 L169.03,253.73 L169.51,254.42 L170.00,255.11 L170.49,255.21 L170.97,255.31 L171.46,255.41 L171.94,255.51 L172.43,255.77 L172.91,256.04 L173.40,256.30 L173.88,256.56 L174.37,256.24 L174.85,255.92 L175.34,255.60 L175.82,255.28 L176.31,255.69 L176.80,256.10 L177.28,256.51 L177.77,256.92 L178.25,256.17 L178.74,255.43 L179.22,254.67 L179.71,253.91 L180.19,254.48 L180.68,255.04 L181.16,255.60 L181.65,256.16 L182.14,255.84 L182.62,255.51 L183.11,255.19 L183.59,254.85 L184.08,254.19 L184.56,253.52 L185.05,252.84 L185.53,252.17 L186.02,252.34 L186.50,252.52 L186.99,252.69 L187.48,252.86 L187.96,253.06 L188.45,253.26 L188.93,253.45 L189.42,253.65 L189.90,253.17 L190.39,252.69 L190.87,252.21 L191.36,251.73 L191.84,252.09 L192.33,252.44 L192.81,252.79 L193.30,253.15 L193.79,252.75 L194.27,252.35 L194.76,251.93 L195.24,251.51 L195.73,251.61 L196.21,251.71 L196.70,251.80 L197.18,251.89 L197.67,252.02 L198.15,252.15 L198.64,252.27 L199.12,252.40 L199.61,251.77 L200.10,251.13 L200.58,250.50 L201.07,249.86 L201.55,249.49 L202.04,249.12 L202.52,248.76 L203.01,248.39 L203.49,248.62 L203.98,248.85 L204.46,249.09 L204.95,249.32 L205.44,249.38 L205.92,249.42 L206.41,249.45 L206.89,249.48 L207.38,249.07 L207.86,248.66 L208.35,248.26 L208.83,247.88 L209.32,248.33 L209.80,248.82 L210.29,249.32 L210.78,249.84 L211.26,249.15 L211.75,248.46 L212.23,247.77 L212.72,247.07 L213.20,247.13 L213.69,247.17 L214.17,247.18 L214.66,247.17 L215.14,245.91 L215.63,244.62 L216.11,243.29 L216.60,241.93 L217.09,242.50 L217.57,243.04 L218.06,243.57 L218.54,244.08 L219.03,244.03 L219.51,243.96 L220.00,243.89 L220.48,243.82 L220.97,242.57 L221.45,241.31 L221.94,240.03 L222.43,238.75 L222.91,238.65 L223.40,238.54 L223.88,238.40 L224.37,238.24 L224.85,237.61 L225.34,236.95 L225.82,236.25 L226.31,235.51 L226.79,234.77 L227.28,233.98 L227.76,233.14 L228.25,232.19 L228.74,231.09 L229.22,229.83 L229.71,228.46 L230.19,227.04 L230.68,225.83 L231.16,224.66 L231.65,223.57 L232.13,222.54 L232.62,220.84 L233.10,219.15 L233.59,217.47 L234.08,215.76 L234.56,214.68 L235.05,213.54 L235.53,212.33 L236.02,211.04 L236.50,209.87 L236.99,208.58 L237.47,207.11 L237.96,205.29 L238.44,202.69 L238.93,199.88 L239.41,196.95 L239.90,193.98 L240.39,191.47 L240.87,189.09 L241.36,186.89 L241.84,184.57 L242.33,181.55 L242.81,179.16 L243.30,177.49 L243.78,176.41 L244.27,176.88 L244.75,177.74 L245.24,178.49 L245.73,179.29 L246.21,180.35 L246.70,181.44 L247.18,182.54 L247.67,183.66 L248.15,184.88 L248.64,186.28 L249.12,187.81 L249.61,189.40 L250.09,191.28 L250.58,193.09 L251.06,194.80 L251.55,196.32 L252.04,196.67 L252.52,196.73 L253.01,196.43 L253.49,195.57 L253.98,194.92 L254.46,193.38 L254.95,191.29 L255.43,188.97 L255.92,185.94 L256.40,183.33 L256.89,180.86 L257.38,178.30 L257.86,176.20 L258.35,174.64 L258.83,173.63 L259.32,173.19 L259.80,173.65 L260.29,174.56 L260.77,175.57 L261.26,176.77 L261.74,178.31 L262.23,179.80 L262.71,181.12 L263.20,182.26 L263.69,182.32 L264.17,182.44 L264.66,182.73 L265.14,183.33 L265.63,186.08 L266.11,189.43 L266.60,193.12 L267.08,196.93 L267.57,200.81 L268.05,204.33 L268.54,207.61 L269.02,210.86 L269.51,212.79 L270.00,214.63 L270.48,216.33 L270.97,217.87 L271.45,220.02 L271.94,221.96 L272.42,223.79 L272.91,225.52 L273.39,225.98 L273.88,226.36 L274.36,226.69 L274.85,226.98 L275.34,227.88 L275.82,228.75 L276.31,229.60 L276.79,230.43 L277.28,232.07 L277.76,233.67 L278.25,235.24 L278.73,236.77 L279.22,237.26 L279.70,237.73 L280.19,238.16 L280.68,238.57 L281.16,239.61 L281.65,240.62 L282.13,241.60 L282.62,242.58 L283.10,243.07 L283.59,243.54 L284.07,244.00 L284.56,244.44 L285.04,244.60 L285.53,244.74 L286.01,244.82 L286.50,244.86 L286.99,245.99 L287.47,247.05 L287.96,248.05 L288.44,249.02 L288.93,249.57 L289.41,250.10 L289.90,250.62 L290.38,251.12 L290.87,250.67 L291.35,250.20 L291.84,249.73 L292.33,249.25 L292.81,249.48 L293.30,249.70 L293.78,249.92 L294.27,250.13 L294.75,250.23 L295.24,250.32 L295.72,250.41 L296.21,250.50 L296.69,250.53 L297.18,250.57 L297.66,250.61 L298.15,250.65 L298.64,251.36 L299.12,252.08 L299.61,252.80 L300.09,253.51 L300.58,254.09 L301.06,254.66 L301.55,255.23 L302.03,255.79 L302.52,254.96 L303.00,254.12 L303.49,253.28 L303.98,252.44 L304.46,253.04 L304.95,253.63 L305.43,254.22 L305.92,254.80 L306.40,255.17 L306.89,255.52 L307.37,255.87 L307.86,256.21 L308.34,256.27 L308.83,256.32 L309.31,256.36 L309.80,256.39 L310.29,255.69 L310.77,254.99 L311.26,254.29 L311.74,253.58 L312.23,253.93 L312.71,254.27 L313.20,254.61 L313.68,254.94 L314.17,254.94 L314.65,254.93 L315.14,254.93 L315.62,254.92 L316.11,254.77 L316.60,254.63 L317.08,254.48 L317.57,254.34 L318.05,254.86 L318.54,255.37 L319.02,255.89 L319.51,256.40 L319.99,256.57 L320.48,256.74 L320.96,256.91 L321.45,257.08 L321.94,257.01 L322.42,256.95 L322.91,256.88 L323.39,256.81 L323.88,256.91 L324.36,257.01 L324.85,257.11 L325.33,257.21 L325.82,256.96 L326.30,256.72 L326.79,256.47 L327.27,256.23 L327.76,256.43 L328.25,256.64 L328.73,256.84 L329.22,257.04 L329.70,256.75 L330.19,256.47 L330.67,256.18 L331.16,255.89 L331.64,256.06 L332.13,256.23 L332.61,256.40 L333.10,256.57 L333.59,256.45 L334.07,256.32 L334.56,256.19 L335.04,256.06 L335.53,255.83 L336.01,255.60 L336.50,255.36 L336.98,255.13 L337.47,254.89 L337.95,254.65 L338.44,254.41 L338.93,254.17 L339.41,254.12 L339.90,254.07 L340.38,254.02 L340.87,253.97 L341.35,254.43 L341.84,254.89 L342.32,255.35 L342.81,255.81 L343.29,255.77 L343.78,255.74 L344.26,255.71 L344.75,255.68 L345.24,255.91 L345.72,256.14 L346.21,256.37 L346.69,256.59 L347.18,256.11 L347.66,255.63 L348.15,255.14 L348.63,254.66 L349.12,254.49 L349.60,254.32 L350.09,254.16 L350.57,253.99 L351.06,254.67 L351.55,255.34 L352.03,256.02 L352.52,256.70 L353.00,256.26 L353.49,255.83 L353.97,255.40 L354.46,254.96 L354.94,255.31 L355.43,255.66 L355.91,256.01 L356.40,256.35 L356.89,256.30 L357.37,256.25 L357.86,256.20 L358.34,256.15 L358.83,256.04 L359.31,255.92 L359.80,255.81 L360.28,255.69 L360.77,255.88 L361.25,256.07 L361.74,256.25 L362.22,256.44 L362.71,256.03 L363.20,255.61 L363.68,255.20 L364.17,254.78 L364.65,255.55 L365.14,256.31 L365.62,257.07 L366.11,257.83 L366.59,257.58 L367.08,257.32 L367.56,257.06 L368.05,256.81 L368.54,256.62 L369.02,256.44 L369.51,256.26 L369.99,256.07 L370.48,256.37 L370.96,256.66 L371.45,256.96 L371.93,257.25 L372.42,256.80 L372.90,256.35 L373.39,255.90 L373.88,255.46 L374.36,256.05 L374.85,256.65 L375.33,257.25 L375.82,257.85 L376.30,257.34 L376.79,256.84 L377.27,256.34 L377.76,255.84 L378.24,256.32 L378.73,256.79 L379.21,257.27 L379.70,257.75 L380.19,257.33 L380.67,256.92 L381.16,256.51 L381.64,256.09 L382.13,255.88 L382.61,255.68 L383.10,255.47 L383.58,255.26 L384.07,254.72 L384.55,254.18 L385.04,253.64 L385.52,253.09 L386.01,253.45 L386.50,253.81 L386.98,254.17 L387.47,254.53 L387.95,254.36 L388.44,254.18 L388.92,254.01 L389.41,253.84 L389.89,254.33 L390.38,254.83 L390.86,255.32 L391.35,255.81 L391.84,255.16 L392.32,254.51 L392.81,253.85 L393.29,253.20 L393.78,253.95 L394.26,254.70 L394.75,255.46 L395.23,256.21 L395.72,256.21 L396.20,256.21 L396.69,256.22 L397.17,256.22 L397.66,256.55 L398.15,256.88 L398.63,257.20 L399.12,257.53 L399.60,257.05 L400.09,256.57 L400.57,256.09 L401.06,255.61 L401.54,255.35 L402.03,255.08 L402.51,254.82 L403.00,254.55" fill="none" stroke="#00ffff" stroke-width="1.75" stroke-linejoin="round" stroke-dasharray="4.3 0.8 0.66 0.8"/>
<path d="M60.26,17.50 L60.30,18.44 L60.78,30.85 L61.27,42.48 L61.75,53.38 L62.24,63.61 L62.72,73.21 L63.21,82.22 L63.69,90.69 L64.18,98.66 L64.66,106.16 L65.15,113.22 L65.64,119.87 L66.12,126.14 L66.61,132.06 L67.09,137.65 L67.58,142.93 L68.06,147.91 L68.55,152.63 L69.03,157.09 L69.52,161.32 L70.00,165.32 L70.49,169.11 L70.97,172.71 L71.46,176.12 L71.95,179.36 L72.43,182.43 L72.92,185.35 L73.40,188.13 L73.89,190.77 L74.37,193.29 L74.86,195.68 L75.34,197.96 L75.83,200.13 L76.31,202.20 L76.80,204.18 L77.29,206.06 L77.77,207.86 L78.26,209.57 L78.74,211.21 L79.23,212.78 L79.71,214.28 L80.20,215.71 L80.68,217.09 L81.17,218.40 L81.65,219.66 L82.14,220.86 L82.62,222.02 L83.11,223.12 L83.60,224.19 L84.08,225.20 L84.57,226.18 L85.05,227.12 L85.54,228.02 L86.02,228.89 L86.51,229.72 L86.99,230.52 L87.48,231.29 L87.96,232.03 L88.45,232.74 L88.94,233.43 L89.42,234.09 L89.91,234.72 L90.39,235.34 L90.88,235.93 L91.36,236.50 L91.85,237.04 L92.33,237.57 L92.82,238.09 L93.30,238.58 L93.79,239.05 L94.28,239.51 L94.76,239.96 L95.25,240.39 L95.73,240.80 L96.22,241.20 L96.70,241.59 L97.19,241.97 L97.67,242.33 L98.16,242.68 L98.64,243.02 L99.13,243.35 L99.61,243.67 L100.10,243.97 L100.59,244.27 L101.07,244.56 L101.56,244.84 L102.04,245.12 L102.53,245.38 L103.01,245.64 L103.50,245.89 L103.98,246.13 L104.47,246.36 L104.95,246.59 L105.44,246.81 L105.92,247.03 L106.41,247.24 L106.90,247.44 L107.38,247.64 L107.87,247.83 L108.35,248.02 L108.84,248.20 L109.32,248.38 L109.81,248.55 L110.29,248.72 L110.78,248.88 L111.26,249.04 L111.75,249.20 L112.24,249.35 L112.72,249.50 L113.21,249.64 L113.69,249.78 L114.18,249.92 L114.66,250.05 L115.15,250.18 L115.63,250.31 L116.12,250.43 L116.60,250.55 L117.09,250.67 L117.57,250.78 L118.06,250.90 L118.55,251.01 L119.03,251.11 L119.52,251.22 L120.00,251.32 L120.49,251.42 L120.97,251.52 L121.46,251.62 L121.94,251.71 L122.43,251.80 L122.91,251.89 L123.40,251.98 L123.89,252.06 L124.37,252.15 L124.86,252.23 L125.34,252.31 L125.83,252.39 L126.31,252.47 L126.80,252.54 L127.28,252.61 L127.77,252.69 L128.25,252.76 L128.74,252.83 L129.23,252.90 L129.71,252.96 L130.20,253.03 L130.68,253.09 L131.17,253.15 L131.65,253.22 L132.14,253.28 L132.62,253.34 L133.11,253.39 L133.59,253.45 L134.08,253.51 L134.56,253.56 L135.05,253.61 L135.54,253.67 L136.02,253.72 L136.51,253.77 L136.99,253.82 L137.48,253.87 L137.96,253.92 L138.45,253.96 L138.93,254.01 L139.42,254.06 L139.90,254.10 L140.39,254.15 L140.88,254.19 L141.36,254.23 L141.85,254.27 L142.33,254.31 L142.82,254.36 L143.30,254.39 L143.79,254.43 L144.27,254.47 L144.76,254.51 L145.24,254.55 L145.73,254.58 L146.21,254.62 L146.70,254.65 L147.19,254.69 L147.67,254.72 L148.16,254.76 L148.64,254.79 L149.13,254.82 L149.61,254.86 L150.10,254.89 L150.58,254.92 L151.07,254.95 L151.55,254.98 L152.04,255.01 L152.52,255.04 L153.01,255.07 L153.50,255.09 L153.98,255.12 L154.47,255.15 L154.95,255.18 L155.44,255.20 L155.92,255.23 L156.41,255.26 L156.89,255.28 L157.38,255.31 L157.86,255.33 L158.35,255.36 L158.84,255.38 L159.32,255.40 L159.81,255.43 L160.29,255.45 L160.78,255.47 L161.26,255.50 L161.75,255.52 L162.23,255.54 L162.72,255.56 L163.20,255.58 L163.69,255.60 L164.18,255.62 L164.66,255.64 L165.15,255.66 L165.63,255.68 L166.12,255.70 L166.60,255.72 L167.09,255.74 L167.57,255.76 L168.06,255.78 L168.54,255.80 L169.03,255.82 L169.51,255.83 L170.00,255.85 L170.49,255.87 L170.97,255.88 L171.46,255.90 L171.94,255.92 L172.43,255.93 L172.91,255.95 L173.40,255.97 L173.88,255.98 L174.37,256.00 L174.85,256.01 L175.34,256.03 L175.82,256.04 L176.31,256.06 L176.80,256.07 L177.28,256.09 L177.77,256.10 L178.25,256.12 L178.74,256.13 L179.22,256.14 L179.71,256.16 L180.19,256.17 L180.68,256.19 L181.16,256.20 L181.65,256.21 L182.14,256.22 L182.62,256.24 L183.11,256.25 L183.59,256.26 L184.08,256.27 L184.56,256.29 L185.05,256.30 L185.53,256.31 L186.02,256.32 L186.50,256.33 L186.99,256.34 L187.48,256.36 L187.96,256.37 L188.45,256.38 L188.93,256.39 L189.42,256.40 L189.90,256.41 L190.39,256.42 L190.87,256.43 L191.36,256.44 L191.84,256.45 L192.33,256.46 L192.81,256.47 L193.30,256.48 L193.79,256.49 L194.27,256.50 L194.76,256.51 L195.24,256.52 L195.73,256.53 L196.21,256.54 L196.70,256.55 L197.18,256.56 L197.67,256.57 L198.15,256.58 L198.64,256.58 L199.12,256.59 L199.61,256.60 L200.10,256.61 L200.58,256.62 L201.07,256.63 L201.55,256.63 L202.04,256.64 L202.52,256.65 L203.01,256.66 L203.49,256.67 L203.98,256.67 L204.46,256.68 L204.95,256.69 L205.44,256.70 L205.92,256.70 L206.41,256.71 L206.89,256.72 L207.38,256.73 L207.86,256.73 L208.35,256.74 L208.83,256.75 L209.32,256.76 L209.80,256.76 L210.29,256.77 L210.78,256.78 L211.26,256.78 L211.75,256.79 L212.23,256.80 L212.72,256.80 L213.20,256.81 L213.69,256.81 L214.17,256.82 L214.66,256.83 L215.14,256.83 L215.63,256.84 L216.11,256.85 L216.60,256.85 L217.09,256.86 L217.57,256.86 L218.06,256.87 L218.54,256.88 L219.03,256.88 L219.51,256.89 L220.00,256.89 L220.48,256.90 L220.97,256.90 L221.45,256.91 L221.94,256.91 L222.43,256.92 L222.91,256.93 L223.40,256.93 L223.88,256.94 L224.37,256.94 L224.85,256.95 L225.34,256.95 L225.82,256.96 L226.31,256.96 L226.79,256.97 L227.28,256.97 L227.76,256.98 L228.25,256.98 L228.74,256.99 L229.22,256.99 L229.71,256.99 L230.19,257.00 L230.68,257.00 L231.16,257.01 L231.65,257.01 L232.13,257.02 L232.62,257.02 L233.10,257.03 L233.59,257.03 L234.08,257.04 L234.56,257.04 L235.05,257.04 L235.53,257.05 L236.02,257.05 L236.50,257.06 L236.99,257.06 L237.47,257.06 L237.96,257.07 L238.44,257.07 L238.93,257.08 L239.41,257.08 L239.90,257.08 L240.39,257.09 L240.87,257.09 L241.36,257.10 L241.84,257.10 L242.33,257.10 L242.81,257.11 L243.30,257.11 L243.78,257.11 L244.27,257.12 L244.75,257.12 L245.24,257.12 L245.73,257.13 L246.21,257.13 L246.70,257.13 L247.18,257.14 L247.67,257.14 L248.15,257.15 L248.64,257.15 L249.12,257.15 L249.61,257.15 L250.09,257.16 L250.58,257.16 L251.06,257.16 L251.55,257.17 L252.04,257.17 L252.52,257.17 L253.01,257.18 L253.49,257.18 L253.98,257.18 L254.46,257.19 L254.95,257.19 L255.43,257.19 L255.92,257.20 L256.40,257.20 L256.89,257.20 L257.38,257.20 L257.86,257.21 L258.35,257.21 L258.83,257.21 L259.32,257.21 L259.80,257.22 L260.29,257.22 L260.77,257.22 L261.26,257.23 L261.74,257.23 L262.23,257.23 L262.71,257.23 L263.20,257.24 L263.69,257.24 L264.17,257.24 L264.66,257.24 L265.14,257.25 L265.63,257.25 L266.11,257.25 L266.60,257.25 L267.08,257.26 L267.57,257.26 L268.05,257.26 L268.54,257.26 L269.02,257.27 L269.51,257.27 L270.00,257.27 L270.48,257.27 L270.97,257.27 L271.45,257.28 L271.94,257.28 L272.42,257.28 L272.91,257.28 L273.39,257.29 L273.88,257.29 L274.36,257.29 L274.85,257.29 L275.34,257.29 L275.82,257.30 L276.31,257.30 L276.79,257.30 L277.28,257.30 L277.76,257.30 L278.25,257.31 L278.73,257.31 L279.22,257.31 L279.70,257.31 L280.19,257.31 L280.68,257.32 L281.16,257.32 L281.65,257.32 L282.13,257.32 L282.62,257.32 L283.10,257.33 L283.59,257.33 L284.07,257.33 L284.56,257.33 L285.04,257.33 L285.53,257.34 L286.01,257.34 L286.50,257.34 L286.99,257.34 L287.47,257.34 L287.96,257.34 L288.44,257.35 L288.93,257.35 L289.41,257.35 L289.90,257.35 L290.38,257.35 L290.87,257.35 L291.35,257.36 L291.84,257.36 L292.33,257.36 L292.81,257.36 L293.30,257.36 L293.78,257.36 L294.27,257.37 L294.75,257.37 L295.24,257.37 L295.72,257.37 L296.21,257.37 L296.69,257.37 L297.18,257.37 L297.66,257.38 L298.15,257.38 L298.64,257.38 L299.12,257.38 L299.61,257.38 L300.09,257.38 L300.58,257.38 L301.06,257.39 L301.55,257.39 L302.03,257.39 L302.52,257.39 L303.00,257.39 L303.49,257.39 L303.98,257.39 L304.46,257.39 L304.95,257.40 L305.43,257.40 L305.92,257.40 L306.40,257.40 L306.89,257.40 L307.37,257.40 L307.86,257.40 L308.34,257.40 L308.83,257.41 L309.31,257.41 L309.80,257.41 L310.29,257.41 L310.77,257.41 L311.26,257.41 L311.74,257.41 L312.23,257.41 L312.71,257.42 L313.20,257.42 L313.68,257.42 L314.17,257.42 L314.65,257.42 L315.14,257.42 L315.62,257.42 L316.11,257.42 L316.60,257.42 L317.08,257.43 L317.57,257.43 L318.05,257.43 L318.54,257.43 L319.02,257.43 L319.51,257.43 L319.99,257.43 L320.48,257.43 L320.96,257.43 L321.45,257.43 L321.94,257.43 L322.42,257.44 L322.91,257.44 L323.39,257.44 L323.88,257.44 L324.36,257.44 L324.85,257.44 L325.33,257.44 L325.82,257.44 L326.30,257.44 L326.79,257.44 L327.27,257.45 L327.76,257.45 L328.25,257.45 L328.73,257.45 L329.22,257.45 L329.70,257.45 L330.19,257.45 L330.67,257.45 L331.16,257.45 L331.64,257.45 L332.13,257.45 L332.61,257.45 L333.10,257.45 L333.59,257.46 L334.07,257.46 L334.56,257.46 L335.04,257.46 L335.53,257.46 L336.01,257.46 L336.50,257.46 L336.98,257.46 L337.47,257.46 L337.95,257.46 L338.44,257.46 L338.93,257.46 L339.41,257.46 L339.90,257.47 L340.38,257.47 L340.87,257.47 L341.35,257.47 L341.84,257.47 L342.32,257.47 L342.81,257.47 L343.29,257.47 L343.78,257.47 L344.26,257.47 L344.75,257.47 L345.24,257.47 L345.72,257.47 L346.21,257.47 L346.69,257.47 L347.18,257.47 L347.66,257.48 L348.15,257.48 L348.63,257.48 L349.12,257.48 L349.60,257.48 L350.09,257.48 L350.57,257.48 L351.06,257.48 L351.55,257.48 L352.03,257.48 L352.52,257.48 L353.00,257.48 L353.49,257.48 L353.97,257.48 L354.46,257.48 L354.94,257.48 L355.43,257.48 L355.91,257.48 L356.40,257.48 L356.89,257.49 L357.37,257.49 L357.86,257.49 L358.34,257.49 L358.83,257.49 L359.31,257.49 L359.80,257.49 L360.28,257.49 L360.77,257.49 L361.25,257.49 L361.74,257.49 L362.22,257.49 L362.71,257.49 L363.20,257.49 L363.68,257.49 L364.17,257.49 L364.65,257.49 L365.14,257.49 L365.62,257.49 L366.11,257.49 L366.59,257.49 L367.08,257.49 L367.56,257.49 L368.05,257.49 L368.54,257.49 L369.02,257.50 L369.51,257.50 L369.99,257.50 L370.48,257.50 L370.96,257.50 L371.45,257.50 L371.93,257.50 L372.42,257.50 L372.90,257.50 L373.39,257.50 L373.88,257.50 L374.36,257.50 L374.85,257.50 L375.33,257.50 L375.82,257.50 L376.30,257.50 L376.79,257.50 L377.27,257.50 L377.76,257.50 L378.24,257.50 L378.73,257.50 L379.21,257.50 L379.70,257.50 L380.19,257.50 L380.67,257.50 L381.16,257.50 L381.64,257.50 L382.13,257.50 L382.61,257.50 L383.10,257.50 L383.58,257.50 L384.07,257.50 L384.55,257.50 L385.04,257.50 L385.52,257.50 L386.01,257.50 L386.50,257.50 L386.98,257.50 L387.47,257.51 L387.95,257.51 L388.44,257.51 L388.92,257.51 L389.41,257.51 L389.89,257.51 L390.38,257.51 L390.86,257.51 L391.35,257.51 L391.84,257.51 L392.32,257.51 L392.81,257.51 L393.29,257.51 L393.78,257.51 L394.26,257.51 L394.75,257.51 L395.23,257.51 L395.72,257.51 L396.20,257.51 L396.69,257.51 L397.17,257.51 L397.66,257.51 L398.15,257.51 L398.63,257.51 L399.12,257.51 L399.60,257.51 L400.09,257.51 L400.57,257.51 L401.06,257.51 L401.54,257.51 L402.03,257.51 L402.51,257.51 L403.00,257.51" fill="none" stroke="#00ff00" stroke-width="1.75" stroke-dasharray="2.3 1.2"/>
<rect x="53.5" y="17.5" width="349.0" height="241.0" fill="none" stroke="#000" stroke-width="1"/>
<path d="M346,28.35 H385" fill="none" stroke="#ff0000" stroke-width="1.75"/>
<path d="M346,42.8 H385" fill="none" stroke="#0000ff" stroke-width="1.75" stroke-dasharray="1.6 1.44"/>
<path d="M346,57.5 H385" fill="none" stroke="#ff00ff" stroke-width="1.75" stroke-dasharray="0.62 0.84"/>
<path d="M346,71.9 H385" fill="none" stroke="#00ffff" stroke-width="1.75" stroke-dasharray="4.3 0.8 0.66 0.8"/>
<path d="M346,86.4 H385" fill="none" stroke="#00ff00" stroke-width="1.75" stroke-dasharray="2.3 1.2"/>
</svg>
<div class="t r" style="left:0;width:44.9px;top:251.5px">0</div>
<div class="t r" style="left:0;width:44.9px;top:221.4px">1</div>
<div class="t r" style="left:0;width:44.9px;top:191.2px">2</div>
<div class="t r" style="left:0;width:44.9px;top:161.1px">3</div>
<div class="t r" style="left:0;width:44.9px;top:131.0px">4</div>
<div class="t r" style="left:0;width:44.9px;top:100.9px">5</div>
<div class="t r" style="left:0;width:44.9px;top:70.8px">6</div>
<div class="t r" style="left:0;width:44.9px;top:40.6px">7</div>
<div class="t r" style="left:0;width:44.9px;top:10.5px">8</div>
<div class="t c" style="left:25.8px;width:60px;top:266.8px">20</div>
<div class="t c" style="left:64.6px;width:60px;top:266.8px">40</div>
<div class="t c" style="left:103.4px;width:60px;top:266.8px">60</div>
<div class="t c" style="left:142.1px;width:60px;top:266.8px">80</div>
<div class="t c" style="left:180.9px;width:60px;top:266.8px">100</div>
<div class="t c" style="left:219.7px;width:60px;top:266.8px">120</div>
<div class="t c" style="left:258.5px;width:60px;top:266.8px">140</div>
<div class="t c" style="left:297.2px;width:60px;top:266.8px">160</div>
<div class="t c" style="left:336.0px;width:60px;top:266.8px">180</div>
<div class="t c" style="left:374.8px;width:60px;top:266.8px">200</div>
<div class="t r" style="left:240px;width:98px;top:21.2px">A</div>
<div class="t r" style="left:240px;width:98px;top:35.7px">B</div>
<div class="t r" style="left:240px;width:98px;top:50.4px">C</div>
<div class="t r" style="left:240px;width:98px;top:64.8px">D</div>
<div class="t r" style="left:240px;width:98px;top:79.3px">no osc</div>
<div class="t c" style="left:198.4px;width:60px;top:287.75px">k</div>
<svg width="30" height="80" viewBox="0 0 30 80" style="position:absolute;left:0;top:98px;will-change:transform"><text x="0" y="0" transform="translate(16.4,40.2) rotate(-90)" text-anchor="middle" font-family="Liberation Sans, sans-serif" font-size="14.67" fill="#000">P(k)</text></svg>
</body></html>
